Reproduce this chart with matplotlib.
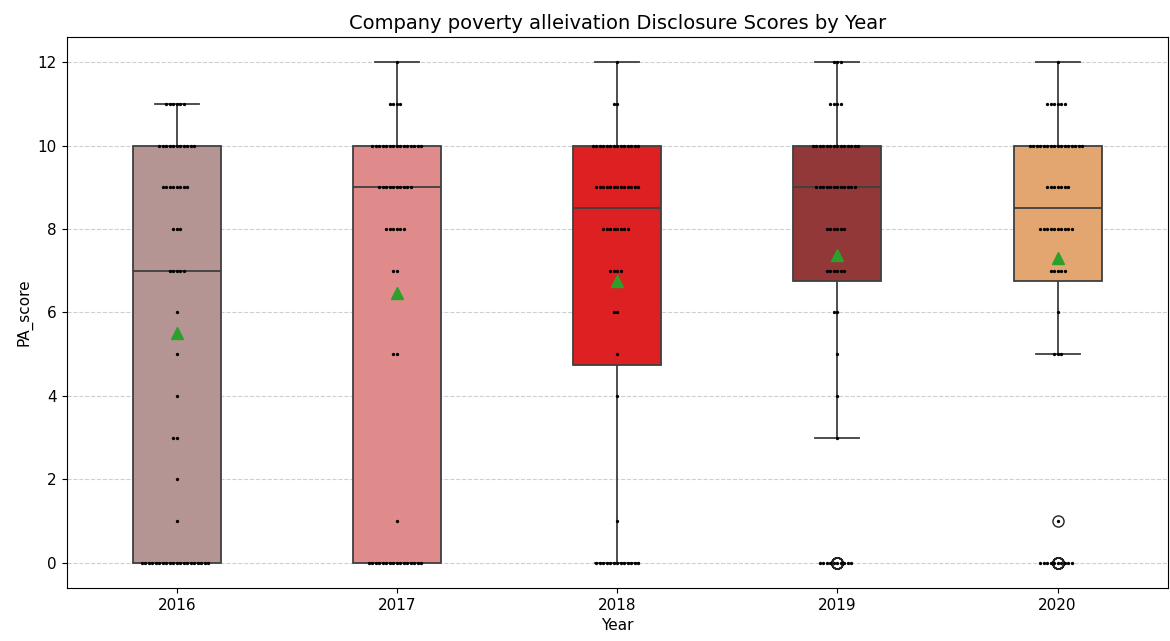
import numpy as np
import pandas as pd
import matplotlib
matplotlib.use("Agg")
import matplotlib.pyplot as plt
import seaborn as sns

years = ["2016", "2017", "2018", "2019", "2020"]
scores = [0, 1, 2, 3, 4, 5, 6, 7, 8, 9, 10, 11, 12]

# number of companies at each score, one list per year
count_2016 = [20, 1, 1, 2, 1, 1, 1, 5, 3, 8, 11, 6, 0]
count_2017 = [16, 1, 0, 0, 0, 2, 0, 2, 6, 10, 15, 4, 1]
count_2018 = [13, 1, 0, 0, 1, 1, 2, 4, 8, 13, 14, 2, 1]
count_2019 = [10, 0, 0, 1, 1, 1, 2, 6, 6, 12, 14, 4, 3]
count_2020 = [10, 1, 0, 0, 0, 3, 1, 5, 10, 7, 16, 6, 1]

box_colors = ["#b59593", "#e08b8b", "#dd2021", "#933839", "#e3a670"]

counts = [count_2016, count_2017, count_2018, count_2019, count_2020]
rows = []
for yr, cnt in zip(years, counts):
    for s, c in zip(scores, cnt):
        rows += [(yr, s)] * c
df = pd.DataFrame(rows, columns=["Year", "PA_score"])

fig, ax = plt.subplots(figsize=(11.7, 6.41), dpi=100)
fig.subplots_adjust(left=0.057, right=0.998, bottom=0.083, top=0.942)

sns.boxplot(data=df, x="Year", y="PA_score", hue="Year", order=years,
            palette=box_colors, saturation=1, width=0.4, legend=False,
            linecolor="#3f3f3f", linewidth=1.3, showmeans=True,
            meanprops=dict(marker="^", markerfacecolor="#2ca02c",
                           markeredgecolor="#2ca02c", markersize=9),
            flierprops=dict(marker="o", markerfacecolor="none",
                            markeredgecolor="#222222", markersize=8),
            ax=ax)
sns.swarmplot(data=df, x="Year", y="PA_score", order=years, color="black",
              size=2.4, ax=ax)

ax.grid(axis="y", linestyle="--", alpha=0.6)
ax.set_axisbelow(True)
ax.set_yticks(range(0, 13, 2))
ax.set_title("Company poverty alleivation Disclosure Scores by Year", fontsize=14)
ax.set_xlabel("Year", fontsize=11)
ax.set_ylabel("PA_score", fontsize=11)
ax.tick_params(labelsize=11)

plt.savefig("out.png")
